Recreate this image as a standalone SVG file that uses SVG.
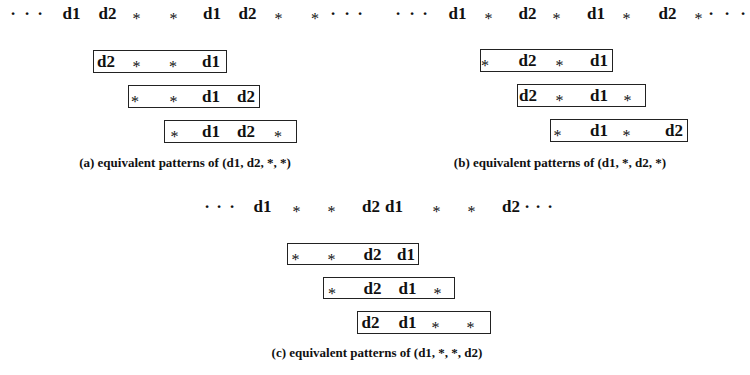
<svg xmlns="http://www.w3.org/2000/svg" width="750" height="375" viewBox="0 0 750 375">
<style>
  text { font-family: "Liberation Serif", "Times New Roman", serif; fill: #111; }
  .d { font-size: 17px; font-weight: bold; text-anchor: middle; }
  .s { font-size: 16px; text-anchor: middle; }
  .dot { font-size: 17px; font-weight: bold; text-anchor: middle; }
  .cap { font-size: 13px; font-weight: bold; text-anchor: middle; }
  .box { fill: #fff; stroke: #222; stroke-width: 1; }
</style>
<rect width="750" height="375" fill="#fff"/>

<!-- (a) -->
<g id="row-a">
  <text class="dot" x="13 27 40" y="19">···</text>
  <text class="d" x="71.5" y="19">d1</text>
  <text class="d" x="107.5" y="19">d2</text>
  <text class="s" x="136.5" y="24">*</text>
  <text class="s" x="173.5" y="24">*</text>
  <text class="d" x="212" y="19">d1</text>
  <text class="d" x="247.5" y="19">d2</text>
  <text class="s" x="278.5" y="24">*</text>
  <text class="s" x="315" y="24">*</text>
  <text class="dot" x="333 347 360" y="19">···</text>
</g>
<g id="box-a1">
  <rect class="box" x="93.5" y="50.5" width="133" height="22"/>
  <text class="d" x="106" y="67">d2</text>
  <text class="s" x="136.5" y="72">*</text>
  <text class="s" x="173" y="72">*</text>
  <text class="d" x="211" y="67">d1</text>
</g>
<g id="box-a2">
  <rect class="box" x="128.5" y="85.5" width="131" height="22"/>
  <text class="s" x="135" y="107">*</text>
  <text class="s" x="173.5" y="107">*</text>
  <text class="d" x="211" y="102">d1</text>
  <text class="d" x="246" y="102">d2</text>
</g>
<g id="box-a3">
  <rect class="box" x="164.5" y="120.5" width="132" height="22"/>
  <text class="s" x="174.5" y="142">*</text>
  <text class="d" x="211" y="137">d1</text>
  <text class="d" x="246" y="137">d2</text>
  <text class="s" x="278" y="142">*</text>
</g>
<text id="cap-a" class="cap" x="185" y="167">(a) equivalent patterns of (d1, d2, *, *)</text>

<!-- (b) -->
<g id="row-b">
  <text class="dot" x="398 412 425" y="19">···</text>
  <text class="d" x="457.5" y="19">d1</text>
  <text class="s" x="488.5" y="24">*</text>
  <text class="d" x="527.5" y="19">d2</text>
  <text class="s" x="556.5" y="24">*</text>
  <text class="d" x="596" y="19">d1</text>
  <text class="s" x="626.5" y="24">*</text>
  <text class="d" x="667.5" y="19">d2</text>
  <text class="s" x="698.5" y="24">*</text>
  <text class="dot" x="711 727 743" y="19">···</text>
</g>
<g id="box-b1">
  <rect class="box" x="480.5" y="49.5" width="132" height="22"/>
  <text class="s" x="485" y="71">*</text>
  <text class="d" x="527.5" y="66">d2</text>
  <text class="s" x="559.5" y="71">*</text>
  <text class="d" x="599" y="66">d1</text>
</g>
<g id="box-b2">
  <rect class="box" x="517.5" y="84.5" width="128" height="22"/>
  <text class="d" x="528" y="101">d2</text>
  <text class="s" x="559.5" y="106">*</text>
  <text class="d" x="599" y="101">d1</text>
  <text class="s" x="627.5" y="106">*</text>
</g>
<g id="box-b3">
  <rect class="box" x="550.5" y="119.5" width="137" height="22"/>
  <text class="s" x="557.5" y="141">*</text>
  <text class="d" x="599" y="136">d1</text>
  <text class="s" x="626.5" y="141">*</text>
  <text class="d" x="674" y="136">d2</text>
</g>
<text id="cap-b" class="cap" x="560" y="167">(b) equivalent patterns of (d1, *, d2, *)</text>

<!-- (c) -->
<g id="row-c">
  <text class="dot" x="207 219 232" y="212">···</text>
  <text class="d" x="262.5" y="212">d1</text>
  <text class="s" x="296.5" y="217">*</text>
  <text class="s" x="331.5" y="217">*</text>
  <text class="d" x="371" y="212">d2</text>
  <text class="d" x="394" y="212">d1</text>
  <text class="s" x="436.5" y="217">*</text>
  <text class="s" x="471.5" y="217">*</text>
  <text class="d" x="511" y="212">d2</text>
  <text class="dot" x="527 538 550" y="212">···</text>
</g>
<g id="box-c1">
  <rect class="box" x="287.5" y="243.5" width="131" height="21"/>
  <text class="s" x="295.5" y="265">*</text>
  <text class="s" x="331.5" y="265">*</text>
  <text class="d" x="372.5" y="260">d2</text>
  <text class="d" x="406" y="260">d1</text>
</g>
<g id="box-c2">
  <rect class="box" x="323.5" y="277.5" width="131" height="21"/>
  <text class="s" x="332" y="299">*</text>
  <text class="d" x="372.5" y="294">d2</text>
  <text class="d" x="407.5" y="294">d1</text>
  <text class="s" x="437.5" y="299">*</text>
</g>
<g id="box-c3">
  <rect class="box" x="357.5" y="311.5" width="133" height="22"/>
  <text class="d" x="370.5" y="328">d2</text>
  <text class="d" x="407.5" y="328">d1</text>
  <text class="s" x="435.5" y="333">*</text>
  <text class="s" x="470.5" y="333">*</text>
</g>
<text id="cap-c" class="cap" x="377" y="357">(c) equivalent patterns of (d1, *, *, d2)</text>

<g id="connectors"/>
</svg>
